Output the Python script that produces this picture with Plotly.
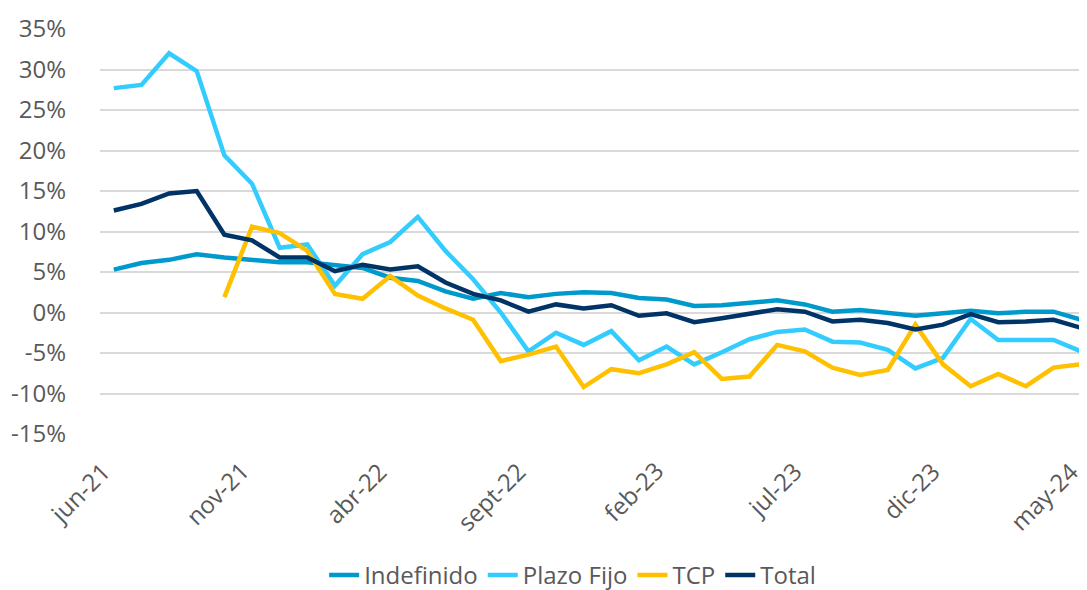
import plotly.graph_objects as go

months = ["jun-21", "jul-21", "ago-21", "sept-21", "oct-21", "nov-21", "dic-21",
          "ene-22", "feb-22", "mar-22", "abr-22", "may-22", "jun-22", "jul-22",
          "ago-22", "sept-22", "oct-22", "nov-22", "dic-22", "ene-23", "feb-23",
          "mar-23", "abr-23", "may-23", "jun-23", "jul-23", "ago-23", "sept-23",
          "oct-23", "nov-23", "dic-23", "ene-24", "feb-24", "mar-24", "abr-24", "may-24"]

indefinido = [5.3, 6.1, 6.5, 7.2, 6.8, 6.5, 6.2, 6.2, 5.9, 5.5, 4.3, 3.9, 2.6, 1.7, 2.4, 1.9,
              2.3, 2.5, 2.4, 1.8, 1.6, 0.8, 0.9, 1.2, 1.5, 1.0, 0.1, 0.3, -0.1, -0.4, -0.1,
              0.2, -0.1, 0.1, 0.1, -0.9]
plazo_fijo = [27.7, 28.1, 32.0, 29.8, 19.4, 15.9, 8.0, 8.4, 3.3, 7.2, 8.7, 11.8, 7.6, 4.1, 0.0,
              -4.8, -2.5, -4.0, -2.3, -5.9, -4.2, -6.4, -4.9, -3.3, -2.4, -2.1, -3.6, -3.7,
              -4.6, -6.9, -5.6, -0.8, -3.4, -3.4, -3.4, -4.8]
tcp = [None, None, None, None, 1.9, 10.6, 9.8, 7.6, 2.3, 1.7, 4.5, 2.1, 0.5, -0.9, -6.0, -5.2,
       -4.2, -9.2, -7.0, -7.5, -6.4, -4.9, -8.2, -7.9, -4.0, -4.8, -6.8, -7.7, -7.1, -1.5,
       -6.4, -9.1, -7.6, -9.1, -6.8, -6.4]
total = [12.6, 13.4, 14.7, 15.0, 9.6, 8.9, 6.8, 6.8, 5.1, 5.9, 5.3, 5.7, 3.7, 2.3, 1.5, 0.1,
         1.0, 0.5, 0.9, -0.4, -0.1, -1.2, -0.7, -0.1, 0.4, 0.1, -1.1, -0.9, -1.3, -2.1, -1.5,
         -0.2, -1.2, -1.1, -0.9, -1.9]

x_tick_labels = months[::5]
y_tick_values = [-15, -10, -5, 0, 5, 10, 15, 20, 25, 30, 35]
y_tick_labels = ["-15%", "-10%", "-5%", "0%", "5%", "10%", "15%", "20%", "25%", "30%", "35%"]

series = [
    ("Indefinido", indefinido, "#0099CC"),
    ("Plazo Fijo", plazo_fijo, "#33CCFF"),
    ("TCP", tcp, "#FFC000"),
    ("Total", total, "#003366"),
]

FONT = "Open Sans, Noto Sans, sans-serif"
GRAY = "#595959"

fig = go.Figure()
for name, vals, col in series:
    fig.add_trace(go.Scatter(x=months, y=vals, name=name, mode="lines",
                             line=dict(color=col, width=4.5), connectgaps=False))

# rotated category labels, anchored by their top-right corner just below each tick
for lab in x_tick_labels:
    fig.add_annotation(x=lab, xref="x", y=-0.045, yref="paper", text=lab,
                       textangle=-45, xanchor="right", yanchor="top", xshift=6,
                       showarrow=False, font=dict(size=24, color=GRAY, family=FONT))

fig.update_layout(
    width=1087, height=590,
    margin=dict(l=92, r=0, t=21, b=157),
    paper_bgcolor="white", plot_bgcolor="white",
    font=dict(family=FONT, size=22, color=GRAY),
    showlegend=True,
    legend=dict(orientation="h", x=0.475, xanchor="center", y=-0.35, yanchor="middle",
                font=dict(size=24, color=GRAY), traceorder="normal"),
)
fig.update_xaxes(type="category", categoryorder="array", categoryarray=months,
                 range=[-0.5, 35.5], showticklabels=False,
                 showgrid=False, showline=False, zeroline=False, ticks="")
fig.update_yaxes(range=[-15, 35], tickmode="array", tickvals=y_tick_values,
                 ticktext=y_tick_labels, showgrid=True, gridcolor="#D9D9D9", gridwidth=1.5,
                 zeroline=False, showline=False, ticks="", ticklabelstandoff=33,
                 tickfont=dict(size=24, color=GRAY))

fig.write_html("out.html")
